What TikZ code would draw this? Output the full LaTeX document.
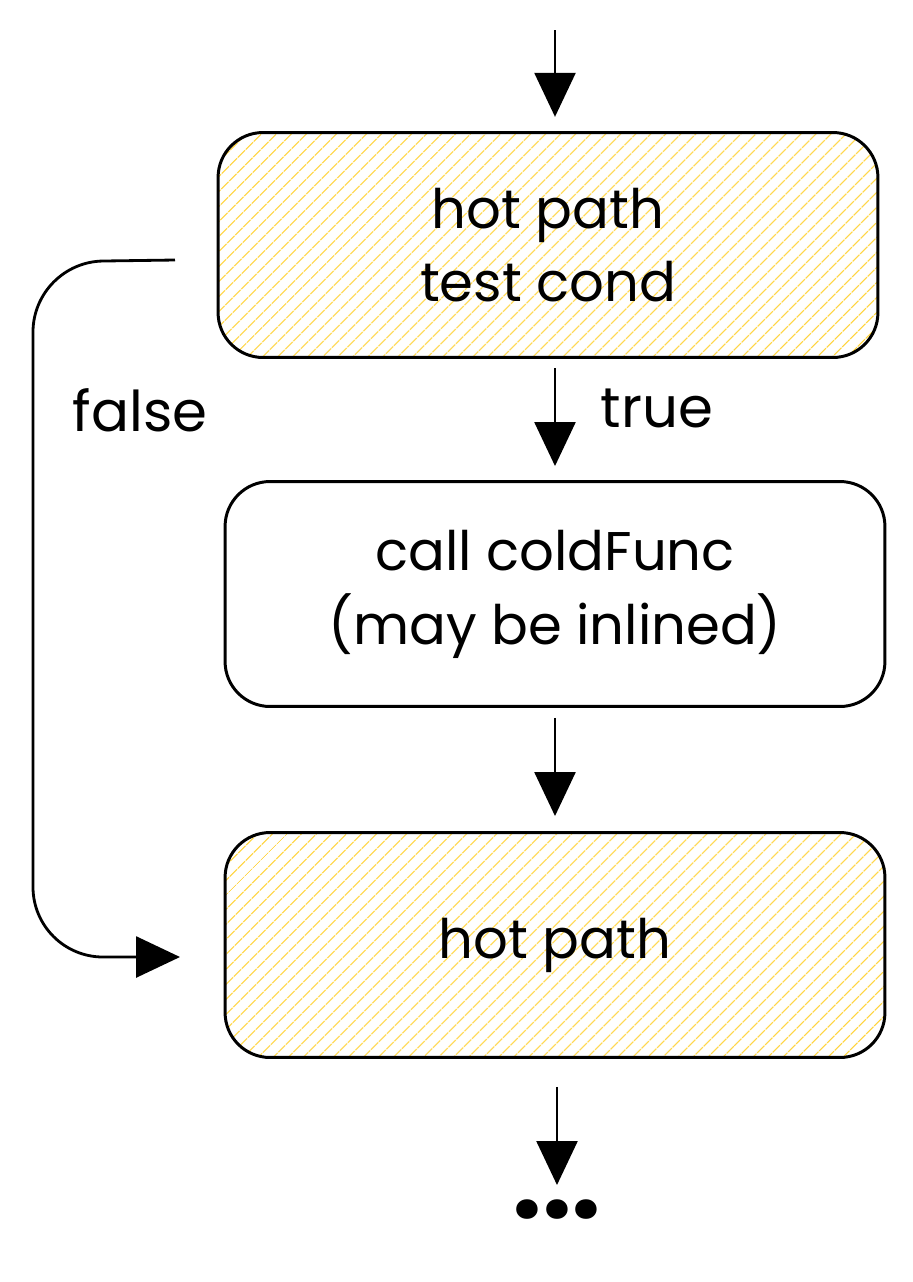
\documentclass[tikz,border=0pt]{standalone}
\usepackage{fontspec}
\setmainfont{Poppins}
\usetikzlibrary{positioning,arrows.meta,patterns.meta}
\definecolor{hatch}{RGB}{255,212,59}

\begin{document}
\begin{tikzpicture}[x=0.02cm, y=-0.02cm,
  box/.style={draw=black, line width=1.7pt, rounded corners=0.9cm,
    minimum width=13.2cm, minimum height=4.5cm, align=center,
    font=\fontsize{31}{42}\selectfont},
  hot/.style={box, pattern={Lines[angle=45, distance=6.5pt, line width=0.8pt]},
    pattern color=hatch},
  flow/.style={line width=1.4pt, -{Triangle[width=0.82cm, length=0.88cm]}},
  lbl/.style={font=\fontsize{32}{36}\selectfont}]

\fill[white] (0,0) rectangle (913,1282);
\useasboundingbox (0,0) rectangle (913,1282);

\def\xl{33}
\def\xm{555}

\coordinate (in) at (\xm, 30);
\coordinate (fs) at (175, 260);
\coordinate (fe) at (180, 957);

\node[hot] (test) at (548, 245) {hot path\\test cond};
\node[box] (cold) at (\xm, 594) {call coldFunc\\(may be inlined)};
\node[hot] (join) at (\xm, 945) {hot path};
\node[anchor=north, inner sep=8pt, font=\fontsize{60}{60}\selectfont\bfseries] (more) at (557, 1185) {...};

\node[lbl] (yes) at (657, 408) {true};
\node[lbl] (no) at (140, 410) {false};

\draw[flow, shorten >=0.3cm] (in) -- (test.north -| in);
\draw[flow, shorten <=0.2cm, shorten >=0.28cm] (test.south -| cold) -- (cold.north);
\draw[flow, shorten <=0.2cm, shorten >=0.3cm] (cold.south) -- (join.north);
\draw[flow, shorten <=0.56cm] (join.south -| more) -- (more.north);

\draw[flow, line width=1.6pt, rounded corners=1.4cm] (fs) -- (\xl, 262) -- (\xl, 957) -- (fe);

\end{tikzpicture}
\end{document}
